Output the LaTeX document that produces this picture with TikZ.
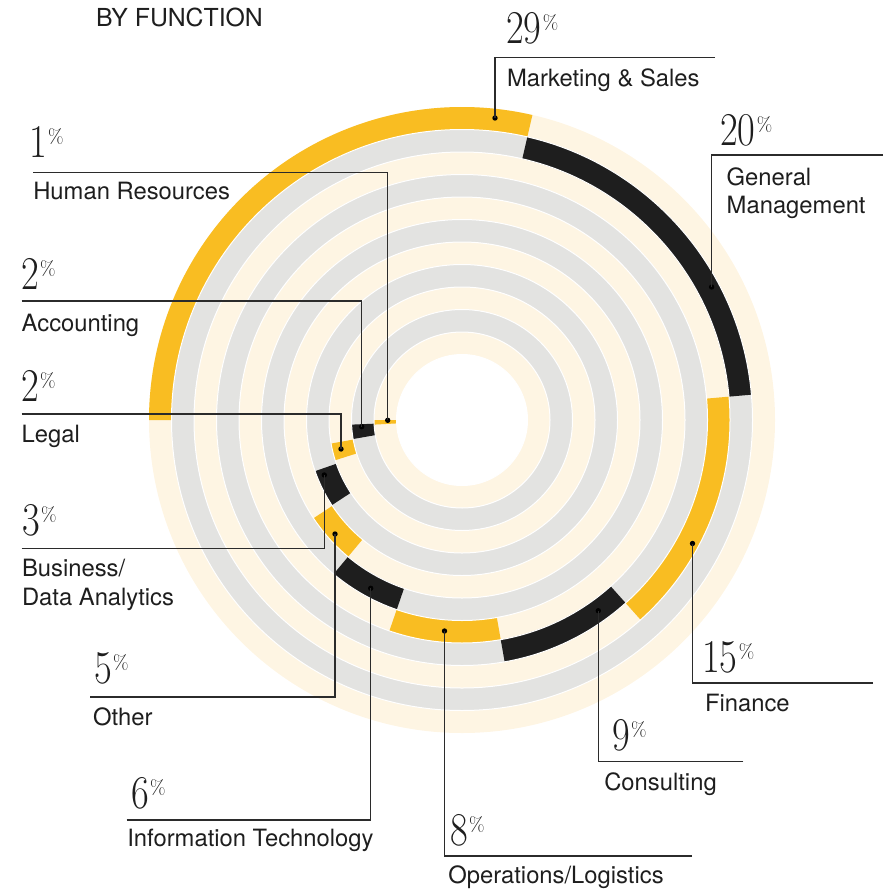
\documentclass[tikz,border=0pt]{standalone}
\usepackage{graphicx}
\usepackage{fontspec}
\setmainfont{TeX Gyre Heros}
\newfontfamily\numfont{Latin Modern Roman}
\definecolor{cream}{HTML}{FEF5E3}
\definecolor{ringgray}{HTML}{E3E3E1}
\definecolor{gold}{HTML}{F9BD22}
\definecolor{ink}{HTML}{1E1E1E}
\definecolor{linec}{HTML}{2B2B2B}
\newcommand\arcseg[5]{\fill[#5] (#3:#2pt) arc[start angle=#3,end angle=#4,radius=#2pt] -- (#4:#1pt) arc[start angle=#4,end angle=#3,radius=#1pt] -- cycle;}
\newcommand\pctnum[1]{\scalebox{0.82}[1]{\numfont\fontsize{47}{47}\selectfont #1}\kern1.5pt\raisebox{14pt}{\numfont\fontsize{20}{20}\selectfont\%}}
\tikzset{
  lbl/.style={anchor=base west, inner sep=0pt, outer sep=0pt, text=ink, font=\fontsize{23.8}{28}\selectfont},
  num/.style={anchor=base west, inner sep=0pt, outer sep=0pt, text=ink},
  dotn/.style={circle, fill=black, inner sep=0pt, minimum size=5.4pt},
  leader/.style={draw=linec, line width=1.1pt},
}
\begin{document}
\begin{tikzpicture}[x=1pt,y=-1pt]
\useasboundingbox (0,0) rectangle (883,891);
% rings
\begin{scope}[shift={(462,420)}]
  \fill[cream]    (0,0) circle[radius=313pt];
  \fill[ringgray] (0,0) circle[radius=290.5pt];
  \fill[cream]    (0,0) circle[radius=268pt];
  \fill[ringgray] (0,0) circle[radius=245.5pt];
  \fill[cream]    (0,0) circle[radius=223pt];
  \fill[ringgray] (0,0) circle[radius=200.5pt];
  \fill[cream]    (0,0) circle[radius=178pt];
  \fill[ringgray] (0,0) circle[radius=155.5pt];
  \fill[cream]    (0,0) circle[radius=133pt];
  \fill[ringgray] (0,0) circle[radius=110.5pt];
  \fill[cream]    (0,0) circle[radius=88pt];
  \fill[white]    (0,0) circle[radius=65.5pt];
  % segments
  \arcseg{290.5}{313}{77}{180}{gold}
  \arcseg{268}{290.5}{5}{77}{ink}
  \arcseg{245.5}{268}{-48.2}{5}{gold}
  \arcseg{223}{245.5}{-80}{-48.2}{ink}
  \arcseg{200.5}{223}{-109}{-80}{gold}
  \arcseg{178}{200.5}{-129.8}{-109}{ink}
  \arcseg{155.5}{178}{-146.5}{-129.8}{gold}
  \arcseg{133}{155.5}{-160.8}{-146.8}{ink}
  \arcseg{110.5}{133}{-169.8}{-162.4}{gold}
  \arcseg{88}{110.5}{-177.6}{-170.1}{ink}
  \arcseg{65.5}{88}{-180}{-177}{gold}
  \foreach \r in {290.5,268,245.5,223,200.5,178,155.5,133,110.5,88,65.5}
    \draw[white, line width=1pt] (0,0) circle[radius=\r pt];
\end{scope}

% title
\node[lbl, font=\fontsize{24.8}{28}\selectfont] (title) at (96,26.7) {BY FUNCTION};

% dots
\node[dotn] (d-mkt) at (495,118) {};
\node[dotn] (d-gm)  at (711.6,287) {};
\node[dotn] (d-fin) at (692.5,543.5) {};
\node[dotn] (d-con) at (598.3,610.7) {};
\node[dotn] (d-ops) at (444.5,631) {};
\node[dotn] (d-it)  at (370.7,588.3) {};
\node[dotn] (d-oth) at (335,534) {};
\node[dotn] (d-bda) at (324.3,475) {};
\node[dotn] (d-leg) at (341,449) {};
\node[dotn] (d-acc) at (361.7,426.7) {};
\node[dotn] (d-hr)  at (387.7,420.3) {};

% elbows and ends
\coordinate (e-mkt) at (495,57.3);   \coordinate (f-mkt) at (715,57.3);
\coordinate (e-gm)  at (711.6,155);  \coordinate (f-gm)  at (883,155);
\coordinate (e-fin) at (692.5,683);  \coordinate (f-fin) at (873,683);
\coordinate (e-con) at (598.3,761.5);\coordinate (f-con) at (743.3,761.5);
\coordinate (e-ops) at (444.5,856);  \coordinate (f-ops) at (692,856);
\coordinate (e-it)  at (370.7,820);  \coordinate (f-it)  at (126.7,820);
\coordinate (e-oth) at (335,697);    \coordinate (f-oth) at (90,697);
\coordinate (e-bda) at (324.3,548.3);\coordinate (f-bda) at (21.7,548.3);
\coordinate (e-leg) at (341,414);    \coordinate (f-leg) at (21.7,414);
\coordinate (e-acc) at (361.7,301);  \coordinate (f-acc) at (21.7,301);
\coordinate (e-hr)  at (387.7,172.7);\coordinate (f-hr)  at (33.3,172.7);

\foreach \k in {mkt,gm,fin,con,ops,it,oth,bda,leg,acc,hr}
  \draw[leader] (f-\k) -- (e-\k) -- (d-\k.center);

% numbers
\node[num] (p-mkt) at (506,44)     {\pctnum{29}};
\node[num] (p-gm)  at (720,145)    {\pctnum{20}};
\node[num] (p-fin) at (702,672.7)  {\pctnum{15}};
\node[num] (p-con) at (612,750)    {\pctnum{9}};
\node[num] (p-ops) at (450,845)    {\pctnum{8}};
\node[num] (p-it)  at (131,808)    {\pctnum{6}};
\node[num] (p-oth) at (94,683)     {\pctnum{5}};
\node[num] (p-bda) at (22,535)     {\pctnum{3}};
\node[num] (p-leg) at (21,401.7)   {\pctnum{2}};
\node[num] (p-acc) at (21,289)     {\pctnum{2}};
\node[num] (p-hr)  at (29,157.3)   {\pctnum{1}};

% labels
\node[lbl] (l-mkt)  at (507,86)      {Marketing \& Sales};
\node[lbl] (l-gm1)  at (726.7,185)   {General};
\node[lbl] (l-gm2)  at (726.7,213)   {Management};
\node[lbl] (l-fin)  at (705,711.7)   {Finance};
\node[lbl] (l-con)  at (604.3,790)   {Consulting};
\node[lbl] (l-ops)  at (448.3,883.3) {Operations/Logistics};
\node[lbl] (l-it)   at (127.3,846.7) {Information Technology};
\node[lbl] (l-oth)  at (93,725)      {Other};
\node[lbl] (l-bda1) at (22,576.7)    {Business/};
\node[lbl] (l-bda2) at (22,605.7)    {Data Analytics};
\node[lbl] (l-leg)  at (21.7,442)    {Legal};
\node[lbl] (l-acc)  at (21.7,331)    {Accounting};
\node[lbl] (l-hr)   at (33.3,199)    {Human Resources};
\end{tikzpicture}
\end{document}
